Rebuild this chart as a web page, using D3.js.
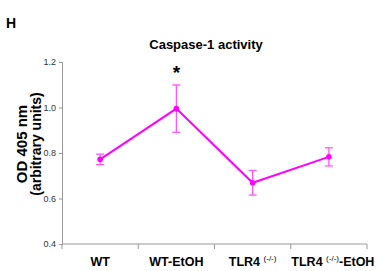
<!DOCTYPE html>
<html lang="en">
<head>
<meta charset="utf-8">
<title>Caspase-1 activity</title>
<script src="https://d3js.org/d3.v7.min.js"></script>
<style>
  body { margin: 0; background: #fff; }
  svg { font-family: "Liberation Sans Narrow", "Liberation Sans", Arial, sans-serif; }
  .bold { font-weight: bold; }
</style>
</head>
<body>
<div id="chart"></div>
<script>
// data
var groups = ['WT', 'WT-EtOH', 'TLR4', 'TLR4-EtOH'];
var means = [0.772, 0.995, 0.669, 0.783];
var errors = [0.023, 0.104, 0.054, 0.040];
var yTicks = [0.4, 0.6, 0.8, 1.0, 1.2];

var width = 382, height = 271;
// note: "top" is reserved on window, so use plot* names
var plotLeft = 62, plotRight = 367, plotTop = 62, plotBottom = 244;

var svg = d3.select('#chart').append('svg')
  .attr('width', width)
  .attr('height', height);

var x = d3.scaleBand().domain(groups).range([plotLeft, plotRight]);
var y = d3.scaleLinear().domain([0.4, 1.2]).range([plotBottom, plotTop]);

// panel letter
svg.append('text')
  .attr('x', 6).attr('y', 28)
  .attr('class', 'bold')
  .style('font-family', 'Liberation Sans, Arial, sans-serif')
  .style('font-size', '14px')
  .text('H');

// title
svg.append('text')
  .attr('x', 206).attr('y', 49)
  .attr('text-anchor', 'middle')
  .attr('class', 'bold')
  .style('font-size', '13px')
  .text('Caspase-1 activity');

// y axis
var yAxis = d3.axisLeft(y).tickValues(yTicks).tickSize(3).tickFormat(d3.format('.1f'));
var yg = svg.append('g')
  .attr('transform', 'translate(' + plotLeft + ',0)')
  .call(yAxis);
yg.select('.domain').attr('stroke', '#999');
yg.selectAll('.tick line').attr('stroke', '#999');
yg.selectAll('.tick text')
  .attr('fill', '#333')
  .style('font-family', 'Liberation Sans Narrow, Arial, sans-serif')
  .style('font-size', '9px');

// x axis: ticks at category boundaries
var xAxisLine = svg.append('g');
xAxisLine.append('line')
  .attr('x1', plotLeft).attr('x2', plotRight)
  .attr('y1', plotBottom).attr('y2', plotBottom)
  .attr('stroke', '#999');
var bounds = groups.map(function(g) { return x(g); }).concat([plotRight]);
xAxisLine.selectAll('.xt')
  .data(bounds)
  .enter().append('line')
  .attr('x1', function(d) { return d; })
  .attr('x2', function(d) { return d; })
  .attr('y1', plotBottom)
  .attr('y2', plotBottom + 5)
  .attr('stroke', '#999');

// x labels
var labels = svg.append('g').attr('class', 'bold').style('font-size', '12.5px');
function addLabel(g, parts, shift) {
  var t = labels.append('text')
    .attr('x', x(g) + x.bandwidth() / 2 + (shift || 0))
    .attr('y', 266)
    .attr('text-anchor', 'middle');
  parts.forEach(function(p) {
    var ts = t.append('tspan').text(p.text);
    if (p.sup) {
      ts.style('font-size', '8px').style('font-weight', 'normal').attr('dy', -5);
    } else if (p.after) {
      ts.attr('dy', 5);
    }
  });
}
addLabel('WT', [{ text: 'WT' }]);
addLabel('WT-EtOH', [{ text: 'WT-EtOH' }]);
addLabel('TLR4', [{ text: 'TLR4 ' }, { text: '(-/-)', sup: true }]);
addLabel('TLR4-EtOH', [{ text: 'TLR4 ' }, { text: '(-/-)', sup: true }, { text: '-EtOH', after: true }], 4);

// y title
svg.append('text')
  .attr('transform', 'translate(27,144) rotate(-90)')
  .attr('text-anchor', 'middle')
  .attr('class', 'bold')
  .style('font-family', 'Liberation Sans, Arial, sans-serif')
  .style('font-size', '15px')
  .text('OD 405  nm');
svg.append('text')
  .attr('transform', 'translate(41,144) rotate(-90)')
  .attr('text-anchor', 'middle')
  .attr('class', 'bold')
  .style('font-family', 'Liberation Sans, Arial, sans-serif')
  .style('font-size', '14px')
  .text('(arbitrary units)');

var cx = function(d, i) { return x(groups[i]) + x.bandwidth() / 2; };

// error bars
var eb = svg.append('g').attr('stroke', '#ff55ff').attr('stroke-width', 1.3);
means.forEach(function(m, i) {
  var px = cx(m, i);
  eb.append('line').attr('x1', px).attr('x2', px)
    .attr('y1', y(m - errors[i])).attr('y2', y(m + errors[i]));
  [m - errors[i], m + errors[i]].forEach(function(v) {
    eb.append('line').attr('x1', px - 4).attr('x2', px + 4)
      .attr('y1', y(v)).attr('y2', y(v));
  });
});

// line
var line = d3.line()
  .x(function(d, i) { return cx(d, i); })
  .y(function(d) { return y(d); });
svg.append('path')
  .datum(means)
  .attr('d', line)
  .attr('fill', 'none')
  .attr('stroke', '#ff00ff')
  .attr('stroke-width', 2);

svg.selectAll('.pt')
  .data(means)
  .enter().append('circle')
  .attr('cx', cx)
  .attr('cy', function(d) { return y(d); })
  .attr('r', 2.8)
  .attr('fill', '#ff00ff');

// significance marker
svg.append('text')
  .attr('x', cx(0, 1))
  .attr('y', 79)
  .attr('text-anchor', 'middle')
  .attr('class', 'bold')
  .style('font-size', '19px')
  .text('*');
</script>
</body>
</html>
